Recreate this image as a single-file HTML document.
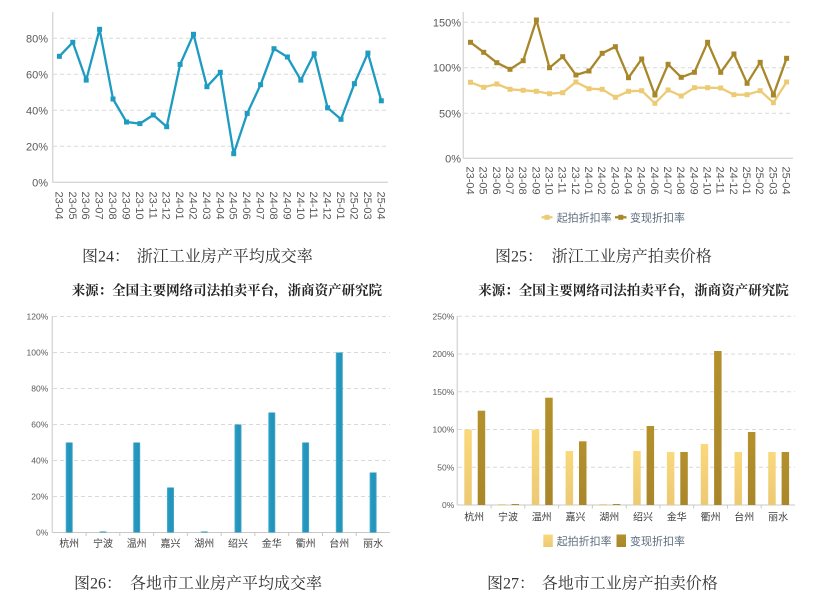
<!DOCTYPE html>
<html>
<head>
<meta charset="utf-8">
<style>
html,body{margin:0;padding:0;background:#fff;}
body{width:819px;height:610px;overflow:hidden;}
svg{display:block;}
.tk{font-family:"Liberation Sans","Noto Sans CJK SC",sans-serif;fill:#595959;}
.cap{font-family:"Liberation Serif","Noto Serif CJK SC",serif;fill:#333;font-size:16px;}
.src{font-family:"Liberation Serif","Noto Serif CJK SC",serif;fill:#222;font-size:13.5px;font-weight:bold;}
.cat{font-family:"Liberation Sans","Noto Sans CJK SC",sans-serif;fill:#404040;}
.leg{font-family:"Liberation Sans","Noto Sans CJK SC",sans-serif;fill:#5d6d7e;font-size:11px;}
</style>
</head>
<body>
<svg width="819" height="610" viewBox="0 0 819 610" xmlns="http://www.w3.org/2000/svg">
<defs>
<linearGradient id="gb" x1="0" y1="0" x2="1" y2="0">
<stop offset="0" stop-color="#4fb6d6"/><stop offset="0.2" stop-color="#2599c0"/><stop offset="0.8" stop-color="#2592b9"/><stop offset="1" stop-color="#4fb0d0"/>
</linearGradient>
<linearGradient id="gl" x1="0" y1="0" x2="0" y2="1">
<stop offset="0" stop-color="#fad97c"/><stop offset="1" stop-color="#ecc973"/>
</linearGradient>
<linearGradient id="gd" x1="0" y1="0" x2="0" y2="1">
<stop offset="0" stop-color="#b4912c"/><stop offset="1" stop-color="#a9862a"/>
</linearGradient>
</defs>

<!-- ================= TOP LEFT ================= -->
<g stroke="#d9d9d9" stroke-width="1" stroke-dasharray="4,3">
<line x1="53" y1="38.3" x2="388" y2="38.3"/>
<line x1="53" y1="74.3" x2="388" y2="74.3"/>
<line x1="53" y1="110.3" x2="388" y2="110.3"/>
<line x1="53" y1="146.3" x2="388" y2="146.3"/>
</g>
<line x1="52.7" y1="12" x2="52.7" y2="182.3" stroke="#d9d9d9" stroke-width="1.5"/>
<line x1="52.7" y1="182.3" x2="388" y2="182.3" stroke="#c8c8c8" stroke-width="1"/>
<g class="tk" font-size="11" text-anchor="end">
<text x="48" y="42.3">80%</text>
<text x="48" y="78.3">60%</text>
<text x="48" y="114.3">40%</text>
<text x="48" y="150.3">20%</text>
<text x="48" y="186.3">0%</text>
</g>
<polyline fill="none" stroke="#1e9bc0" stroke-width="2.3" stroke-linejoin="round" points="59.4,56.3 72.8,42.3 86.2,80.1 99.6,29.3 113,99 126.5,122 139.9,123.6 153.3,115 166.7,126.7 180.1,64.4 193.5,34.3 206.9,86.7 220.3,72.3 233.7,153.7 247.2,113.4 260.6,84.7 274,48.7 287.4,57 300.8,80.1 314.2,53.8 327.6,107.8 341,119.3 354.4,83.7 367.9,53.1 381.3,100.8"/>
<g fill="#1e9bc0">
<rect x="56.9" y="53.8" width="5" height="5"/><rect x="70.3" y="39.8" width="5" height="5"/><rect x="83.7" y="77.6" width="5" height="5"/><rect x="97.1" y="26.8" width="5" height="5"/><rect x="110.5" y="96.5" width="5" height="5"/><rect x="124" y="119.5" width="5" height="5"/><rect x="137.4" y="121.1" width="5" height="5"/><rect x="150.8" y="112.5" width="5" height="5"/><rect x="164.2" y="124.2" width="5" height="5"/><rect x="177.6" y="61.9" width="5" height="5"/><rect x="191" y="31.8" width="5" height="5"/><rect x="204.4" y="84.2" width="5" height="5"/><rect x="217.8" y="69.8" width="5" height="5"/><rect x="231.2" y="151.2" width="5" height="5"/><rect x="244.7" y="110.9" width="5" height="5"/><rect x="258.1" y="82.2" width="5" height="5"/><rect x="271.5" y="46.2" width="5" height="5"/><rect x="284.9" y="54.5" width="5" height="5"/><rect x="298.3" y="77.6" width="5" height="5"/><rect x="311.7" y="51.3" width="5" height="5"/><rect x="325.1" y="105.3" width="5" height="5"/><rect x="338.5" y="116.8" width="5" height="5"/><rect x="351.9" y="81.2" width="5" height="5"/><rect x="365.4" y="50.6" width="5" height="5"/><rect x="378.8" y="98.3" width="5" height="5"/>
</g>
<g class="tk" font-size="11" fill="#404040">
<text transform="translate(59.4,191.5) rotate(90)" y="4">23-04</text>
<text transform="translate(72.8,191.5) rotate(90)" y="4">23-05</text>
<text transform="translate(86.2,191.5) rotate(90)" y="4">23-06</text>
<text transform="translate(99.6,191.5) rotate(90)" y="4">23-07</text>
<text transform="translate(113,191.5) rotate(90)" y="4">23-08</text>
<text transform="translate(126.5,191.5) rotate(90)" y="4">23-09</text>
<text transform="translate(139.9,191.5) rotate(90)" y="4">23-10</text>
<text transform="translate(153.3,191.5) rotate(90)" y="4">23-11</text>
<text transform="translate(166.7,191.5) rotate(90)" y="4">23-12</text>
<text transform="translate(180.1,191.5) rotate(90)" y="4">24-01</text>
<text transform="translate(193.5,191.5) rotate(90)" y="4">24-02</text>
<text transform="translate(206.9,191.5) rotate(90)" y="4">24-03</text>
<text transform="translate(220.3,191.5) rotate(90)" y="4">24-04</text>
<text transform="translate(233.7,191.5) rotate(90)" y="4">24-05</text>
<text transform="translate(247.2,191.5) rotate(90)" y="4">24-06</text>
<text transform="translate(260.6,191.5) rotate(90)" y="4">24-07</text>
<text transform="translate(274,191.5) rotate(90)" y="4">24-08</text>
<text transform="translate(287.4,191.5) rotate(90)" y="4">24-09</text>
<text transform="translate(300.8,191.5) rotate(90)" y="4">24-10</text>
<text transform="translate(314.2,191.5) rotate(90)" y="4">24-11</text>
<text transform="translate(327.6,191.5) rotate(90)" y="4">24-12</text>
<text transform="translate(341,191.5) rotate(90)" y="4">25-01</text>
<text transform="translate(354.4,191.5) rotate(90)" y="4">25-02</text>
<text transform="translate(367.9,191.5) rotate(90)" y="4">25-03</text>
<text transform="translate(381.3,191.5) rotate(90)" y="4">25-04</text>
</g>

<!-- ================= TOP RIGHT ================= -->
<g stroke="#d9d9d9" stroke-width="1" stroke-dasharray="4,3">
<line x1="464" y1="22.3" x2="793" y2="22.3"/>
<line x1="464" y1="67.7" x2="793" y2="67.7"/>
<line x1="464" y1="113.3" x2="793" y2="113.3"/>
</g>
<line x1="463.3" y1="12" x2="463.3" y2="158.3" stroke="#d9d9d9" stroke-width="1.5"/>
<line x1="463.3" y1="158.3" x2="793" y2="158.3" stroke="#c8c8c8" stroke-width="1"/>
<g class="tk" font-size="11" text-anchor="end" fill="#404040">
<text x="461" y="26.3">150%</text>
<text x="461" y="71.7">100%</text>
<text x="461" y="117.3">50%</text>
<text x="461" y="162.3">0%</text>
</g>
<polyline fill="none" stroke="#eccb74" stroke-width="2.3" stroke-linejoin="round" points="470.5,82.3 483.7,87.3 496.8,84 510,89.3 523.2,90.3 536.4,91.3 549.5,93.7 562.7,92.7 575.9,82 589,88.7 602.2,89.3 615.4,97.3 628.5,91.3 641.7,90.7 654.9,103.3 668.1,90 681.2,96 694.4,87.7 707.6,87.7 720.7,88 733.9,94.7 747.1,94.7 760.2,90.7 773.4,102.7 786.6,82"/>
<g fill="#eccb74">
<rect x="468" y="79.8" width="5" height="5"/><rect x="481.2" y="84.8" width="5" height="5"/><rect x="494.3" y="81.5" width="5" height="5"/><rect x="507.5" y="86.8" width="5" height="5"/><rect x="520.7" y="87.8" width="5" height="5"/><rect x="533.9" y="88.8" width="5" height="5"/><rect x="547" y="91.2" width="5" height="5"/><rect x="560.2" y="90.2" width="5" height="5"/><rect x="573.4" y="79.5" width="5" height="5"/><rect x="586.5" y="86.2" width="5" height="5"/><rect x="599.7" y="86.8" width="5" height="5"/><rect x="612.9" y="94.8" width="5" height="5"/><rect x="626" y="88.8" width="5" height="5"/><rect x="639.2" y="88.2" width="5" height="5"/><rect x="652.4" y="100.8" width="5" height="5"/><rect x="665.6" y="87.5" width="5" height="5"/><rect x="678.7" y="93.5" width="5" height="5"/><rect x="691.9" y="85.2" width="5" height="5"/><rect x="705.1" y="85.2" width="5" height="5"/><rect x="718.2" y="85.5" width="5" height="5"/><rect x="731.4" y="92.2" width="5" height="5"/><rect x="744.6" y="92.2" width="5" height="5"/><rect x="757.7" y="88.2" width="5" height="5"/><rect x="770.9" y="100.2" width="5" height="5"/><rect x="784.1" y="79.5" width="5" height="5"/>
</g>
<polyline fill="none" stroke="#a8872a" stroke-width="2.3" stroke-linejoin="round" points="470.5,42.3 483.7,52.3 496.8,62.7 510,69.3 523.2,60.7 536.4,20 549.5,67.7 562.7,56.7 575.9,75 589,71 602.2,53.3 615.4,46.7 628.5,77.7 641.7,59 654.9,95 668.1,64.3 681.2,77.3 694.4,72.3 707.6,42.3 720.7,72.3 733.9,54 747.1,83.3 760.2,62.3 773.4,95 786.6,58.3"/>
<g fill="#a8872a">
<rect x="468" y="39.8" width="5" height="5"/><rect x="481.2" y="49.8" width="5" height="5"/><rect x="494.3" y="60.2" width="5" height="5"/><rect x="507.5" y="66.8" width="5" height="5"/><rect x="520.7" y="58.2" width="5" height="5"/><rect x="533.9" y="17.5" width="5" height="5"/><rect x="547" y="65.2" width="5" height="5"/><rect x="560.2" y="54.2" width="5" height="5"/><rect x="573.4" y="72.5" width="5" height="5"/><rect x="586.5" y="68.5" width="5" height="5"/><rect x="599.7" y="50.8" width="5" height="5"/><rect x="612.9" y="44.2" width="5" height="5"/><rect x="626" y="75.2" width="5" height="5"/><rect x="639.2" y="56.5" width="5" height="5"/><rect x="652.4" y="92.5" width="5" height="5"/><rect x="665.6" y="61.8" width="5" height="5"/><rect x="678.7" y="74.8" width="5" height="5"/><rect x="691.9" y="69.8" width="5" height="5"/><rect x="705.1" y="39.8" width="5" height="5"/><rect x="718.2" y="69.8" width="5" height="5"/><rect x="731.4" y="51.5" width="5" height="5"/><rect x="744.6" y="80.8" width="5" height="5"/><rect x="757.7" y="59.8" width="5" height="5"/><rect x="770.9" y="92.5" width="5" height="5"/><rect x="784.1" y="55.8" width="5" height="5"/>
</g>
<g class="tk" font-size="11" fill="#404040">
<text transform="translate(470.5,166.5) rotate(90)" y="4">23-04</text>
<text transform="translate(483.7,166.5) rotate(90)" y="4">23-05</text>
<text transform="translate(496.8,166.5) rotate(90)" y="4">23-06</text>
<text transform="translate(510,166.5) rotate(90)" y="4">23-07</text>
<text transform="translate(523.2,166.5) rotate(90)" y="4">23-08</text>
<text transform="translate(536.4,166.5) rotate(90)" y="4">23-09</text>
<text transform="translate(549.5,166.5) rotate(90)" y="4">23-10</text>
<text transform="translate(562.7,166.5) rotate(90)" y="4">23-11</text>
<text transform="translate(575.9,166.5) rotate(90)" y="4">23-12</text>
<text transform="translate(589,166.5) rotate(90)" y="4">24-01</text>
<text transform="translate(602.2,166.5) rotate(90)" y="4">24-02</text>
<text transform="translate(615.4,166.5) rotate(90)" y="4">24-03</text>
<text transform="translate(628.5,166.5) rotate(90)" y="4">24-04</text>
<text transform="translate(641.7,166.5) rotate(90)" y="4">24-05</text>
<text transform="translate(654.9,166.5) rotate(90)" y="4">24-06</text>
<text transform="translate(668.1,166.5) rotate(90)" y="4">24-07</text>
<text transform="translate(681.2,166.5) rotate(90)" y="4">24-08</text>
<text transform="translate(694.4,166.5) rotate(90)" y="4">24-09</text>
<text transform="translate(707.6,166.5) rotate(90)" y="4">24-10</text>
<text transform="translate(720.7,166.5) rotate(90)" y="4">24-11</text>
<text transform="translate(733.9,166.5) rotate(90)" y="4">24-12</text>
<text transform="translate(747.1,166.5) rotate(90)" y="4">25-01</text>
<text transform="translate(760.2,166.5) rotate(90)" y="4">25-02</text>
<text transform="translate(773.4,166.5) rotate(90)" y="4">25-03</text>
<text transform="translate(786.6,166.5) rotate(90)" y="4">25-04</text>
</g>
<!-- legend TR -->
<line x1="541.5" y1="217.3" x2="552.5" y2="217.3" stroke="#eccb74" stroke-width="2.3"/>
<rect x="544.5" y="214.8" width="5" height="5" fill="#eccb74"/>
<text class="leg" x="556.7" y="221.3">起拍折扣率</text>
<line x1="615" y1="217.3" x2="626.5" y2="217.3" stroke="#a8872a" stroke-width="2.3"/>
<rect x="618.3" y="214.8" width="5" height="5" fill="#a8872a"/>
<text class="leg" x="630" y="221.3">变现折扣率</text>

<!-- captions top -->
<text class="cap" x="82" y="261.5">图24：</text>
<text class="cap" x="136.7" y="261.5">浙江工业房产平均成交率</text>
<text class="src" x="71.7" y="295">来源：全国主要网络司法拍卖平台，浙商资产研究院</text>
<text class="cap" x="495" y="261.5">图25：</text>
<text class="cap" x="551.7" y="261.5">浙江工业房产拍卖价格</text>
<text class="src" x="478.3" y="295">来源：全国主要网络司法拍卖平台，浙商资产研究院</text>

<!-- ================= BOTTOM LEFT ================= -->
<g stroke="#d9d9d9" stroke-width="1" stroke-dasharray="4,3">
<line x1="53" y1="316.5" x2="390" y2="316.5"/>
<line x1="53" y1="352.5" x2="390" y2="352.5"/>
<line x1="53" y1="388.5" x2="390" y2="388.5"/>
<line x1="53" y1="424.5" x2="390" y2="424.5"/>
<line x1="53" y1="460.5" x2="390" y2="460.5"/>
<line x1="53" y1="496.5" x2="390" y2="496.5"/>
</g>
<line x1="52.3" y1="316" x2="52.3" y2="532.5" stroke="#d9d9d9" stroke-width="1.5"/>
<line x1="52.3" y1="532.5" x2="390" y2="532.5" stroke="#c8c8c8" stroke-width="1"/>
<g stroke="#c8c8c8" stroke-width="1">
<line x1="86.1" y1="532.5" x2="86.1" y2="536"/><line x1="119.8" y1="532.5" x2="119.8" y2="536"/><line x1="153.6" y1="532.5" x2="153.6" y2="536"/><line x1="187.4" y1="532.5" x2="187.4" y2="536"/><line x1="221.2" y1="532.5" x2="221.2" y2="536"/><line x1="254.9" y1="532.5" x2="254.9" y2="536"/><line x1="288.7" y1="532.5" x2="288.7" y2="536"/><line x1="322.5" y1="532.5" x2="322.5" y2="536"/><line x1="356.2" y1="532.5" x2="356.2" y2="536"/>
</g>
<g class="tk" font-size="8.5" text-anchor="end" fill="#404040">
<text x="48.3" y="319.5">120%</text>
<text x="48.3" y="355.5">100%</text>
<text x="48.3" y="391.5">80%</text>
<text x="48.3" y="427.5">60%</text>
<text x="48.3" y="463.5">40%</text>
<text x="48.3" y="499.5">20%</text>
<text x="48.3" y="535.5">0%</text>
</g>
<g fill="url(#gb)">
<rect x="65.7" y="442.5" width="7" height="90"/>
<rect x="99.5" y="531.5" width="7" height="1"/>
<rect x="133.2" y="442.5" width="7" height="90"/>
<rect x="167" y="487.5" width="7" height="45"/>
<rect x="200.8" y="531.5" width="7" height="1"/>
<rect x="234.5" y="424.5" width="7" height="108"/>
<rect x="268.3" y="412.5" width="7" height="120"/>
<rect x="302.1" y="442.5" width="7" height="90"/>
<rect x="335.8" y="352.5" width="7" height="180"/>
<rect x="369.6" y="472.5" width="7" height="60"/>
</g>
<g class="cat" font-size="10" text-anchor="middle">
<text x="69.2" y="547">杭州</text>
<text x="103" y="547">宁波</text>
<text x="136.7" y="547">温州</text>
<text x="170.5" y="547">嘉兴</text>
<text x="204.3" y="547">湖州</text>
<text x="238" y="547">绍兴</text>
<text x="271.8" y="547">金华</text>
<text x="305.6" y="547">衢州</text>
<text x="339.3" y="547">台州</text>
<text x="373.1" y="547">丽水</text>
</g>

<!-- ================= BOTTOM RIGHT ================= -->
<g stroke="#d9d9d9" stroke-width="1" stroke-dasharray="4,3">
<line x1="458" y1="316.3" x2="795" y2="316.3"/>
<line x1="458" y1="354" x2="795" y2="354"/>
<line x1="458" y1="391.8" x2="795" y2="391.8"/>
<line x1="458" y1="429.5" x2="795" y2="429.5"/>
<line x1="458" y1="467.3" x2="795" y2="467.3"/>
</g>
<line x1="457.3" y1="316" x2="457.3" y2="505" stroke="#d9d9d9" stroke-width="1.5"/>
<line x1="457.3" y1="505" x2="795" y2="505" stroke="#c8c8c8" stroke-width="1"/>
<g stroke="#c8c8c8" stroke-width="1">
<line x1="491.1" y1="505" x2="491.1" y2="508.5"/><line x1="524.8" y1="505" x2="524.8" y2="508.5"/><line x1="558.6" y1="505" x2="558.6" y2="508.5"/><line x1="592.4" y1="505" x2="592.4" y2="508.5"/><line x1="626.2" y1="505" x2="626.2" y2="508.5"/><line x1="659.9" y1="505" x2="659.9" y2="508.5"/><line x1="693.7" y1="505" x2="693.7" y2="508.5"/><line x1="727.5" y1="505" x2="727.5" y2="508.5"/><line x1="761.2" y1="505" x2="761.2" y2="508.5"/>
</g>
<g class="tk" font-size="8.5" text-anchor="end" fill="#404040">
<text x="454.3" y="319.3">250%</text>
<text x="454.3" y="357">200%</text>
<text x="454.3" y="394.8">150%</text>
<text x="454.3" y="432.5">100%</text>
<text x="454.3" y="470.3">50%</text>
<text x="454.3" y="508">0%</text>
</g>
<g fill="url(#gl)">
<rect x="464.3" y="429.5" width="7.5" height="75.5"/>
<rect x="498.1" y="504" width="7.5" height="1"/>
<rect x="531.8" y="429.5" width="7.5" height="75.5"/>
<rect x="565.6" y="451" width="7.5" height="54"/>
<rect x="599.4" y="504" width="7.5" height="1"/>
<rect x="633.2" y="451" width="7.5" height="54"/>
<rect x="666.9" y="452" width="7.5" height="53"/>
<rect x="700.7" y="444" width="7.5" height="61"/>
<rect x="734.5" y="452" width="7.5" height="53"/>
<rect x="768.2" y="452" width="7.5" height="53"/>
</g>
<g fill="url(#gd)">
<rect x="477.7" y="410.7" width="7.5" height="94.3"/>
<rect x="511.5" y="504" width="7.5" height="1"/>
<rect x="545.2" y="397.7" width="7.5" height="107.3"/>
<rect x="579" y="441.3" width="7.5" height="63.7"/>
<rect x="612.8" y="504" width="7.5" height="1"/>
<rect x="646.6" y="426" width="7.5" height="79"/>
<rect x="680.3" y="452" width="7.5" height="53"/>
<rect x="714.1" y="351" width="7.5" height="154"/>
<rect x="747.9" y="432" width="7.5" height="73"/>
<rect x="781.6" y="452" width="7.5" height="53"/>
</g>
<g class="cat" font-size="10" text-anchor="middle">
<text x="474.2" y="520.3">杭州</text>
<text x="508" y="520.3">宁波</text>
<text x="541.7" y="520.3">温州</text>
<text x="575.5" y="520.3">嘉兴</text>
<text x="609.3" y="520.3">湖州</text>
<text x="643" y="520.3">绍兴</text>
<text x="676.8" y="520.3">金华</text>
<text x="710.6" y="520.3">衢州</text>
<text x="744.3" y="520.3">台州</text>
<text x="778.1" y="520.3">丽水</text>
</g>
<!-- legend BR -->
<rect x="543.3" y="534.5" width="9.5" height="12.5" fill="url(#gl)"/>
<text class="leg" x="556.7" y="545">起拍折扣率</text>
<rect x="616.5" y="534.5" width="9.5" height="12.5" fill="url(#gd)"/>
<text class="leg" x="630" y="545">变现折扣率</text>

<!-- captions bottom -->
<text class="cap" x="74" y="588.5" font-size="15.7">图26：</text>
<text class="cap" x="130" y="588.5" font-size="15.7">各地市工业房产平均成交率</text>
<text class="cap" x="487" y="588.5" font-size="15.7">图27：</text>
<text class="cap" x="541.7" y="588.5" font-size="15.7">各地市工业房产拍卖价格</text>
</svg>
</body>
</html>
